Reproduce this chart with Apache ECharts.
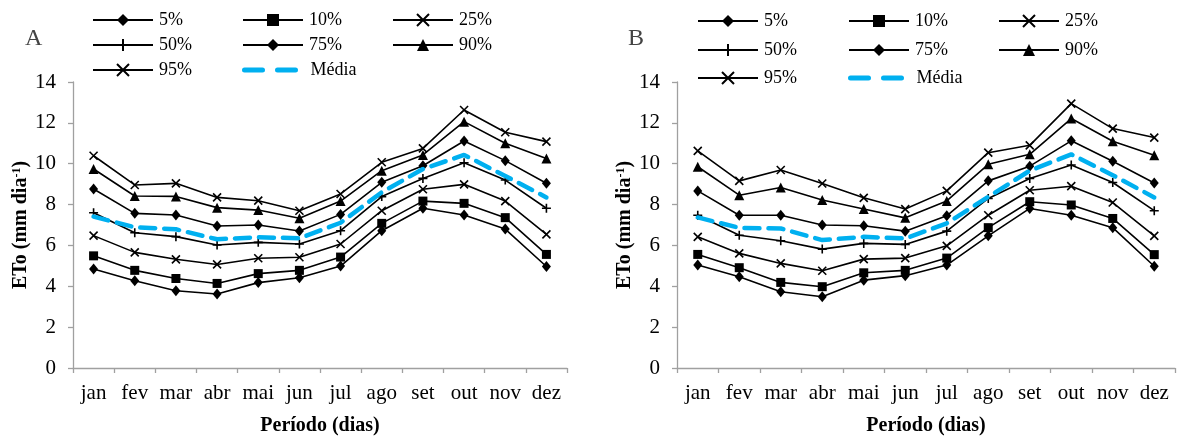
<!DOCTYPE html>
<html><head><meta charset="utf-8">
<script src="https://cdn.jsdelivr.net/npm/echarts@6/dist/echarts.min.js"></script>
<style>html,body{margin:0;padding:0;background:#fff}#c{width:1179px;height:439px}</style>
</head><body><div id="c"></div>
<script>
const months = ['jan','fev','mar','abr','mai','jun','jul','ago','set','out','nov','dez'];
const yTicks = [0, 2, 4, 6, 8, 10, 12, 14];
const seriesNames = ['5%','10%','25%','50%','75%','90%','95%','Média'];
// Panel A
const p5A  = [4.85, 4.27, 3.78, 3.62, 4.18, 4.42, 4.99, 6.72, 7.82, 7.49, 6.80, 4.97];
const p10A = [5.49, 4.78, 4.38, 4.14, 4.62, 4.78, 5.43, 7.08, 8.17, 8.06, 7.36, 5.56];
const p25A = [6.48, 5.66, 5.32, 5.07, 5.37, 5.42, 6.07, 7.70, 8.75, 8.99, 8.17, 6.54];
const p50A = [7.60, 6.62, 6.43, 6.02, 6.15, 6.07, 6.72, 8.39, 9.28, 10.05, 9.20, 7.82];
const p75A = [8.76, 7.57, 7.49, 6.95, 7.00, 6.71, 7.52, 9.09, 9.90, 11.11, 10.15, 9.04];
const p90A = [9.74, 8.42, 8.40, 7.85, 7.73, 7.33, 8.17, 9.66, 10.43, 12.06, 11.00, 10.26];
const p95A = [10.39, 8.96, 9.04, 8.35, 8.19, 7.70, 8.52, 10.07, 10.75, 12.63, 11.54, 11.08];
const meanA = [7.41, 6.89, 6.79, 6.30, 6.40, 6.35, 7.11, 8.60, 9.74, 10.43, 9.40, 8.35];
// Panel B
const p5B  = [5.04, 4.47, 3.73, 3.49, 4.30, 4.52, 5.04, 6.47, 7.81, 7.48, 6.87, 4.98];
const p10B = [5.56, 4.91, 4.19, 3.98, 4.66, 4.78, 5.38, 6.87, 8.14, 7.98, 7.32, 5.55];
const p25B = [6.42, 5.61, 5.12, 4.76, 5.33, 5.38, 5.98, 7.48, 8.70, 8.90, 8.10, 6.47];
const p50B = [7.48, 6.50, 6.23, 5.82, 6.10, 6.05, 6.70, 8.30, 9.28, 9.94, 9.08, 7.70];
const p75B = [8.67, 7.48, 7.48, 7.00, 6.96, 6.70, 7.45, 9.16, 9.88, 11.12, 10.12, 9.06];
const p90B = [9.85, 8.46, 8.84, 8.22, 7.78, 7.35, 8.18, 9.97, 10.46, 12.21, 11.10, 10.41];
const p95B = [10.63, 9.16, 9.69, 9.03, 8.33, 7.78, 8.67, 10.54, 10.90, 12.94, 11.72, 11.28];
const meanB = [7.37, 6.86, 6.83, 6.26, 6.42, 6.34, 7.08, 8.38, 9.66, 10.46, 9.44, 8.35];

const FONT = '"Liberation Serif", "Times New Roman", serif';
const AXIS_COLOR = '#a0a0a0';
const X_SYM = 'path://M0,0L10,10M10,0L0,10';
const PLUS_SYM = 'path://M5,0L5,10M0,5L10,5';
const styles = [
  {symbol:'diamond', size:[9,11]},
  {symbol:'rect', size:9},
  {symbol:X_SYM, size:8, stroke:true},
  {symbol:PLUS_SYM, size:9, stroke:true},
  {symbol:'diamond', size:[9,11]},
  {symbol:'triangle', size:10},
  {symbol:X_SYM, size:8, stroke:true},
  {dashed:true}
];
const panels = [
  {data:[p5A,p10A,p25A,p50A,p75A,p90A,p95A,meanA], grid:{left:73, right:612, top:82, bottom:71},
   label:'A', labelX:20, legendCols:[92,242,392], legendRows:[22,47,72]},
  {data:[p5B,p10B,p25B,p50B,p75B,p90B,p95B,meanB], grid:{left:677, right:4, top:82, bottom:71},
   label:'B', labelX:623, legendCols:[697,848,998], legendRows:[23,52,80]}
];

const option = {
  animation:false,
  textStyle:{fontFamily:FONT},
  title:[], grid:[], xAxis:[], yAxis:[], series:[], legend:[]
};
panels.forEach((p, pi) => {
  option.title.push({text:p.label, left:p.labelX, top:22, textStyle:{fontFamily:FONT, fontSize:24, fontWeight:'normal', color:'#444'}});
  option.grid.push(Object.assign({containLabel:false, outerBoundsMode:'none'}, p.grid));
  option.xAxis.push({
    type:'category', gridIndex:pi, data:months, boundaryGap:true,
    axisLine:{lineStyle:{color:AXIS_COLOR, width:1.3}},
    axisTick:{show:true, length:5, lineStyle:{color:AXIS_COLOR, width:1.3}},
    axisLabel:{color:'#000', fontSize:21, fontFamily:FONT, margin:15, interval:0},
    name:'Período (dias)', nameLocation:'middle', nameGap:48,
    nameTextStyle:{color:'#000', fontSize:20, fontWeight:'bold', fontFamily:FONT}
  });
  option.yAxis.push({
    type:'value', gridIndex:pi, min:yTicks[0], max:yTicks[yTicks.length-1], interval:2,
    axisLine:{show:true, lineStyle:{color:AXIS_COLOR, width:1.3}},
    axisTick:{show:true, length:5, lineStyle:{color:AXIS_COLOR, width:1.3}},
    splitLine:{show:false},
    axisLabel:{color:'#000', fontSize:21, fontFamily:FONT, margin:17},
    name:'{b|ETo (mm dia}{s|-1}{b|)}', nameLocation:'middle', nameGap:42, nameRotate:90,
    nameTextStyle:{color:'#000', rich:{
      b:{fontSize:20, fontWeight:'bold', fontFamily:FONT, color:'#000'},
      s:{fontSize:12, fontWeight:'bold', fontFamily:FONT, color:'#000', verticalAlign:'top', padding:[0,0,7,0]}
    }}
  });
  p.data.forEach((arr, si) => {
    const st = styles[si];
    const s = {
      name:seriesNames[si], type:'line', xAxisIndex:pi, yAxisIndex:pi, data:arr,
      z: st.dashed ? 5 : 3
    };
    if (st.dashed) {
      s.symbol = 'none';
      s.lineStyle = {color:'#00B0F0', width:4.5, type:[15,9], cap:'round'};
      s.itemStyle = {color:'#00B0F0'};
    } else {
      s.symbol = st.symbol; s.symbolSize = st.size; s.showSymbol = true;
      s.lineStyle = {color:'#000', width:1.6};
      s.itemStyle = st.stroke ? {color:'#000', borderColor:'#000', borderWidth:1.6} : {color:'#000', borderWidth:0};
    }
    option.series.push(s);
  });
  seriesNames.forEach((nm, li) => {
    const col = li % 3, row = Math.floor(li / 3);
    const item = (nm === 'Média')
      ? {name:nm, itemStyle:{opacity:0}, lineStyle:{color:'#00B0F0', width:5, type:[18,15], cap:'round'}}
      : {name:nm};
    option.legend.push({
      data:[item], left:p.legendCols[col], top:p.legendRows[row]-11, padding:0,
      itemWidth:60, itemHeight:15, selectedMode:false,
      textStyle:{fontSize:18, fontFamily:FONT, color:'#000', padding:[0,0,0,1]}
    });
  });
});
const chart = echarts.init(document.getElementById('c'), null, {renderer:'canvas'});
chart.setOption(option);
</script></body></html>
